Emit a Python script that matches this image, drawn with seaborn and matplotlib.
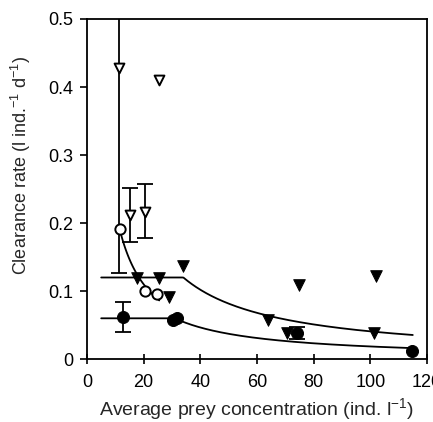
import numpy as np
import pandas as pd
import matplotlib
matplotlib.use('Agg')
import matplotlib.pyplot as plt
import seaborn as sns

# open triangles
open_tri_x = [11.2, 15.3, 20.5, 25.3]
open_tri_y = [0.428, 0.212, 0.217, 0.411]
open_tri_lo = [0.127, 0.172, 0.178, np.nan]
open_tri_hi = [0.75, 0.252, 0.257, np.nan]

# open circles
open_circ_x = [11.6, 20.5, 24.8]
open_circ_y = [0.191, 0.100, 0.095]

# filled triangles
fill_tri_x = [17.8, 25.3, 29.0, 33.8, 64.0, 70.7, 74.7, 101.3, 102.0]
fill_tri_y = [0.119, 0.119, 0.091, 0.137, 0.058, 0.039, 0.109, 0.039, 0.1225]

# filled circles
fill_circ_x = [12.8, 30.5, 31.8, 74.1, 114.7]
fill_circ_y = [0.062, 0.058, 0.060, 0.038, 0.012]
fill_circ_lo = [0.040, np.nan, np.nan, 0.029, np.nan]
fill_circ_hi = [0.084, np.nan, np.nan, 0.047, np.nan]

# fitted curves: plateau, threshold, x range
upper_fit = dict(plateau=0.12, thresh=34.0, x0=5, x1=115)
lower_fit = dict(plateau=0.06, thresh=31.0, x0=5, x1=115)
steep_fit = dict(k=2.2, x0=11.6, x1=25.5)

sns.set_style('ticks')
plt.rcParams['font.family'] = ['Liberation Sans', 'DejaVu Sans']
plt.rcParams['mathtext.default'] = 'regular'

fig = plt.figure(figsize=(4.33, 4.22), dpi=100)
ax = fig.add_axes([0.201, 0.149, 0.785, 0.806])

def plateau_curve(p):
    x = np.linspace(p['x0'], p['x1'], 300)
    y = np.where(x < p['thresh'], p['plateau'], p['plateau'] * p['thresh'] / x)
    return x, y

for p in (upper_fit, lower_fit):
    x, y = plateau_curve(p)
    sns.lineplot(x=x, y=y, ax=ax, color='black', lw=1.3, sort=False)
xs = np.linspace(steep_fit['x0'], steep_fit['x1'], 100)
sns.lineplot(x=xs, y=steep_fit['k'] / xs, ax=ax, color='black', lw=1.3, sort=False)

# error bars
def draw_err(xv, yv, lo, hi):
    for x, y, l, h in zip(xv, yv, lo, hi):
        if np.isnan(l):
            continue
        ax.errorbar([x], [y], yerr=[[y - l], [h - y]], fmt='none',
                    ecolor='black', elinewidth=1.3, capsize=5.5, capthick=1.3)

draw_err(open_tri_x, open_tri_y, open_tri_lo, open_tri_hi)
draw_err(fill_circ_x, fill_circ_y, fill_circ_lo, fill_circ_hi)

sns.scatterplot(x=open_tri_x, y=open_tri_y, ax=ax, marker='v', s=50,
                facecolor='white', edgecolor='black', linewidth=1.4, zorder=5)
sns.scatterplot(x=open_circ_x, y=open_circ_y, ax=ax, marker='o', s=55,
                facecolor='white', edgecolor='black', linewidth=1.4, zorder=5)
sns.scatterplot(x=fill_tri_x, y=fill_tri_y, ax=ax, marker='v', s=70,
                color='black', edgecolor='black', zorder=5)
sns.scatterplot(x=fill_circ_x, y=fill_circ_y, ax=ax, marker='o', s=75,
                color='black', edgecolor='black', zorder=5)

ax.set_xlim(0, 120)
ax.set_ylim(0, 0.5)
ax.set_xticks([0, 20, 40, 60, 80, 100, 120])
ax.set_yticks([0, 0.1, 0.2, 0.3, 0.4, 0.5])
ax.set_yticklabels(['0', '0.1', '0.2', '0.3', '0.4', '0.5'])
ax.tick_params(labelsize=13, colors='black', width=1.2)
ax.tick_params(axis='y', direction='out', length=5, pad=5)
ax.tick_params(axis='x', direction='inout', length=7, pad=7)
for s in ax.spines.values():
    s.set_linewidth(1.3)
    s.set_color('black')

ax.set_xlabel('Average prey concentration (ind. l$^{-1}$)', fontsize=14, labelpad=4)
ax.set_ylabel('Clearance rate (l ind.$^{-1}$ d$^{-1}$)', fontsize=13)
ax.yaxis.set_label_coords(-0.16, 0.57)

fig.savefig('out.png', dpi=100)
